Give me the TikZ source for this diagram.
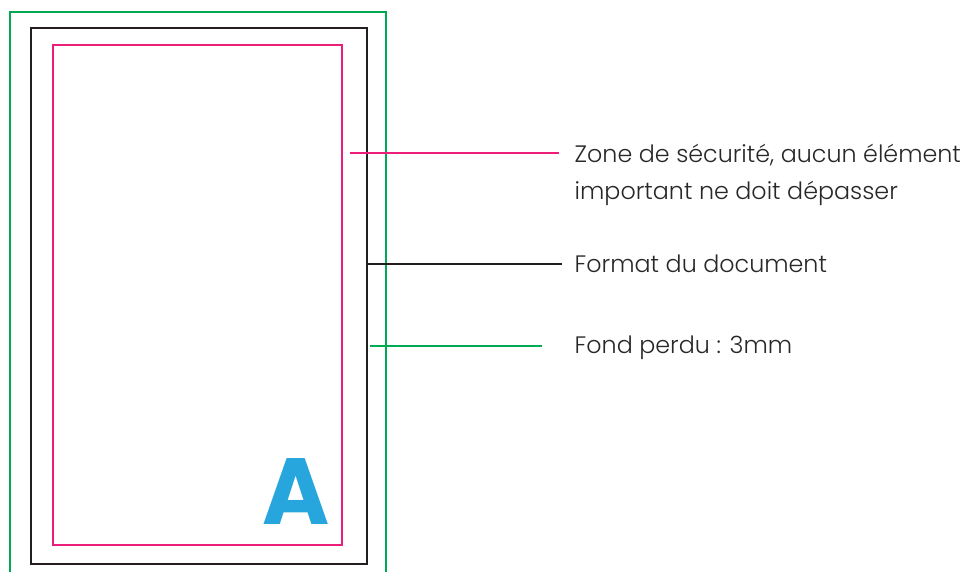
\documentclass[tikz,border=0pt]{standalone}
\usepackage{fontspec}
\setmainfont{Poppins Light}
\newfontfamily\boldA{Poppins Bold}
\definecolor{bleedgreen}{RGB}{0,170,85}
\definecolor{safepink}{RGB}{236,30,121}
\definecolor{docblack}{RGB}{35,31,32}
\definecolor{abblue}{RGB}{39,166,222}
\definecolor{txtgray}{RGB}{40,40,40}
\tikzset{
  rulestroke/.style={line width=2.2pt},
  lbl/.style={anchor=base west, inner sep=0pt, text=txtgray, font=\fontsize{23.8}{37}\selectfont, align=left}
}
\begin{document}
\begin{tikzpicture}[x=1pt,y=-1pt]
\useasboundingbox (0,0) rectangle (968,572);
\fill[white] (0,0) rectangle (968,572);
% frames
\draw[rulestroke, bleedgreen] (10,600) -- (10,12) -- (386,12) -- (386,600);
\draw[rulestroke, docblack] (31,28) rectangle (367,564);
\draw[rulestroke, safepink] (53,45) rectangle (342,545);
% big A
\node[anchor=base east, inner sep=0pt, text=abblue, font=\boldA\fontsize{94}{94}\selectfont, xscale=0.97] (A) at (330,524) {A};
% labels
\node[lbl] (safe) at (574.5,200) {Zone de sécurité, aucun élément\\important ne doit dépasser};
\node[lbl] (fmt) at (574.5,272) {Format du document};
\node[lbl] (bleed) at (574.5,353) {Fond perdu : 3mm};
% leaders
\coordinate (ps) at (350,153);
\coordinate (pe) at (559,153);
\coordinate (bs) at (367,264);
\coordinate (be) at (562,264);
\coordinate (gs) at (370,346);
\coordinate (ge) at (542,346);
\draw[rulestroke, safepink] (ps) -- (pe);
\draw[rulestroke, docblack] (bs) -- (be);
\draw[rulestroke, bleedgreen] (gs) -- (ge);
\end{tikzpicture}
\end{document}
